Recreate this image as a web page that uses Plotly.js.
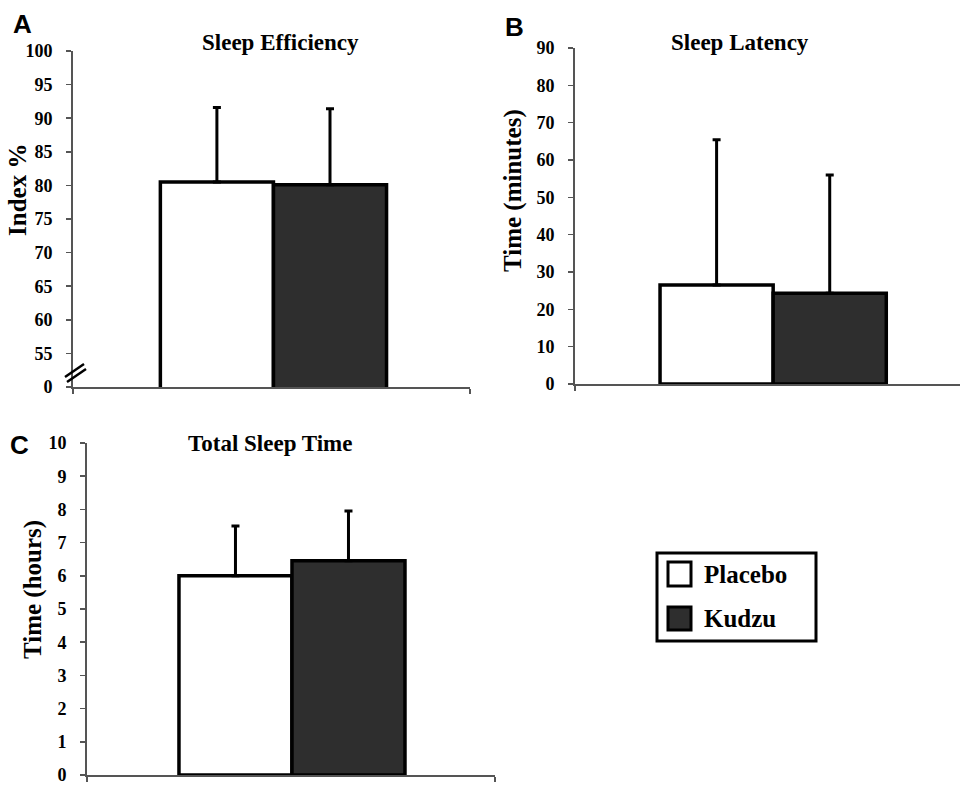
<!DOCTYPE html>
<html>
<head>
<meta charset="utf-8">
<script src="https://cdn.plot.ly/plotly-3.0.1.min.js"></script>
<style>html,body{margin:0;padding:0;background:#fff;}#chart{width:960px;height:785px;}</style>
</head>
<body>
<div id="chart"></div>
<script>
// ---- data ----
const panelTitles = ['Sleep Efficiency', 'Sleep Latency', 'Total Sleep Time'];
const panelLetters = ['A', 'B', 'C'];
const yTitles = ['Index %', 'Time (minutes)', 'Time (hours)'];
const seriesNames = ['Placebo', 'Kudzu'];
const placeboMean = [80.5, 26.5, 6.0];
const placeboSD = [11.1, 38.9, 1.5];
const kudzuMean = [80.1, 24.3, 6.45];
const kudzuSD = [11.3, 31.7, 1.5];
const effTickVals = [50, 55, 60, 65, 70, 75, 80, 85, 90, 95, 100];
const effTickText = ['0', '55', '60', '65', '70', '75', '80', '85', '90', '95', '100'];

// ---- helpers ----
const W = 960, H = 785;
const px = v => v / W;
const py = v => 1 - v / H;
const serif = 'Liberation Serif, Times New Roman, serif';
const sans = 'Liberation Sans, Arial, sans-serif';
const axisCol = '#555';

const fills = ['#ffffff', '#2e2e2e'];
const means = [placeboMean, kudzuMean];
const sds = [placeboSD, kudzuSD];
const axIds = [['x', 'y'], ['x2', 'y2'], ['x3', 'y3']];

const traces = [];
for (let p = 0; p < 3; p++) {
  for (let s = 0; s < 2; s++) {
    traces.push({
      type: 'bar',
      name: seriesNames[s],
      x: [0],
      y: [means[s][p]],
      xaxis: axIds[p][0],
      yaxis: axIds[p][1],
      offsetgroup: String(s),
      marker: { color: fills[s], line: { color: '#000', width: 3.5 } },
      error_y: { type: 'data', symmetric: false, array: [sds[s][p]], arrayminus: [0],
                 color: '#000', thickness: 3, width: 4 },
      showlegend: false,
      hoverinfo: 'y'
    });
  }
}

const xr = [[-0.514, 0.504], [-0.508, 0.479], [-0.526, 0.521]];
const xd = [[px(73), px(470)], [px(575), 1.0], [px(87), px(495)]];
const yd = [[py(387), py(51)], [py(384), py(48)], [py(775), py(443)]];

function xaxis(i, anchor) {
  return {
    domain: xd[i], range: xr[i], anchor: anchor, type: 'linear',
    showline: true, linecolor: axisCol, linewidth: 1.8,
    showgrid: false, zeroline: false,
    tickmode: 'array', tickvals: i === 1 ? [xr[i][0]] : [xr[i][0], xr[i][1]], ticktext: ['', ''],
    ticks: 'outside', ticklen: 5, tickcolor: axisCol, tickwidth: 1.5,
    fixedrange: true
  };
}
function yaxis(i, anchor, extra) {
  return Object.assign({
    domain: yd[i], anchor: anchor,
    showline: true, linecolor: axisCol, linewidth: 1.8,
    showgrid: false, zeroline: false,
    ticks: 'outside', ticklen: 5, tickcolor: axisCol, tickwidth: 1.5,
    ticklabelstandoff: 10, ticklabeloverflow: 'allow',
    tickfont: { family: serif, size: 18, color: '#000', weight: 'bold' },
    fixedrange: true
  }, extra);
}

const titlePos = [[280, 43], [740, 43], [270, 443]];
const yTitlePos = [[18, 190], [513, 191], [33, 590]];
const letterPos = [[22, 24], [514, 27], [19.5, 444.5]];

const annotations = [];
for (let p = 0; p < 3; p++) {
  annotations.push({ xref: 'paper', yref: 'paper', x: px(titlePos[p][0]), y: py(titlePos[p][1]),
    xanchor: 'center', yanchor: 'middle', showarrow: false, text: '<b>' + panelTitles[p] + '</b>',
    font: { family: serif, size: 23, color: '#000' } });
  annotations.push({ xref: 'paper', yref: 'paper', x: px(yTitlePos[p][0]), y: py(yTitlePos[p][1]),
    xanchor: 'center', yanchor: 'middle', showarrow: false, textangle: -90, text: '<b>' + yTitles[p] + '</b>',
    font: { family: serif, size: 25, color: '#000' } });
  annotations.push({ xref: 'paper', yref: 'paper', x: px(letterPos[p][0]), y: py(letterPos[p][1]),
    xanchor: 'center', yanchor: 'middle', showarrow: false, text: '<b>' + panelLetters[p] + '</b>',
    font: { family: sans, size: 26, color: '#000' } });
}
// legend texts
const legTextY = [574, 618];
for (let s = 0; s < 2; s++) {
  annotations.push({ xref: 'paper', yref: 'paper', x: px(702), y: py(legTextY[s]),
    xanchor: 'left', yanchor: 'middle', showarrow: false, text: '<b>' + seriesNames[s] + '</b>',
    font: { family: serif, size: 25, color: '#000' } });
}

const shapes = [
  // legend box
  { type: 'rect', xref: 'paper', yref: 'paper', x0: px(657), x1: px(816), y0: py(641), y1: py(553),
    line: { color: '#000', width: 3 }, fillcolor: 'rgba(0,0,0,0)' },
  { type: 'rect', xref: 'paper', yref: 'paper', x0: px(668), x1: px(691), y0: py(586), y1: py(562),
    line: { color: '#000', width: 3 }, fillcolor: fills[0] },
  { type: 'rect', xref: 'paper', yref: 'paper', x0: px(668), x1: px(691), y0: py(630), y1: py(607),
    line: { color: '#000', width: 3 }, fillcolor: fills[1] },
  // axis break marks on panel A
  { type: 'line', xref: 'paper', yref: 'paper', x0: px(65), y0: py(377), x1: px(84), y1: py(364),
    line: { color: '#000', width: 2.5 } },
  { type: 'line', xref: 'paper', yref: 'paper', x0: px(67), y0: py(382), x1: px(86), y1: py(369),
    line: { color: '#000', width: 2.5 } }
];

const layout = {
  width: W, height: H,
  margin: { l: 0, r: 0, t: 0, b: 0 },
  paper_bgcolor: '#fff', plot_bgcolor: '#fff',
  barmode: 'group', bargap: 0.42, bargroupgap: 0,
  showlegend: false,
  xaxis: xaxis(0, 'y'),
  yaxis: yaxis(0, 'x', { range: [50, 100], tickmode: 'array', tickvals: effTickVals, ticktext: effTickText }),
  xaxis2: xaxis(1, 'y2'),
  yaxis2: yaxis(1, 'x2', { range: [0, 90], dtick: 10, tick0: 0 }),
  xaxis3: xaxis(2, 'y3'),
  yaxis3: yaxis(2, 'x3', { range: [0, 10], dtick: 1, tick0: 0 }),
  annotations: annotations,
  shapes: shapes
};

Plotly.newPlot('chart', traces, layout, { displayModeBar: false, staticPlot: true });
</script>
</body>
</html>
